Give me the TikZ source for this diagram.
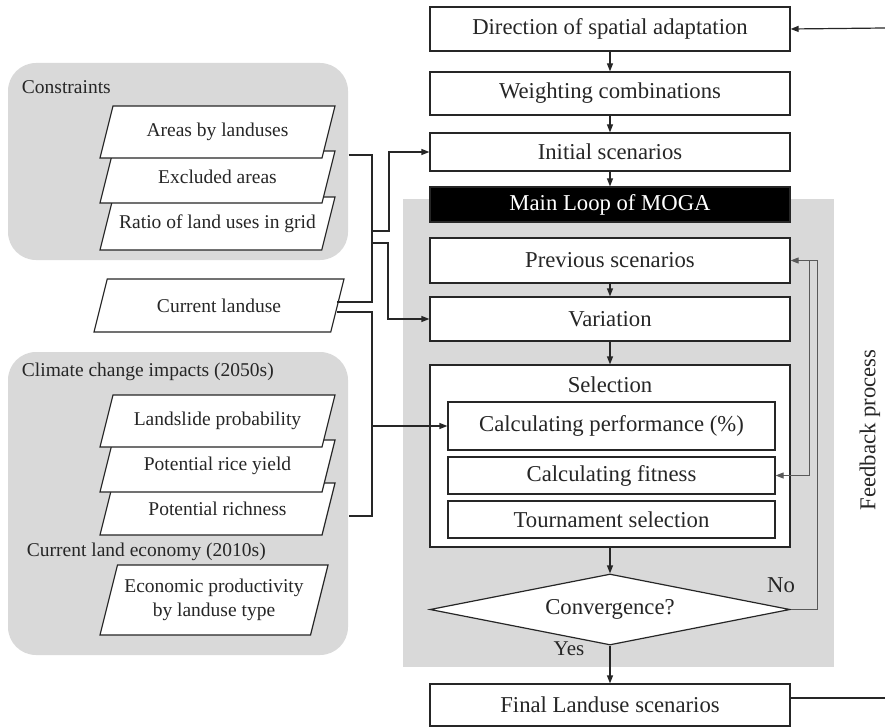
\documentclass[tikz,border=0pt]{standalone}
\usepackage{fontspec}
\setmainfont{Liberation Serif}
\usepackage{tikz}
\usetikzlibrary{arrows.meta, shapes.geometric, calc}

\newcommand{\flowfont}{\fontsize{22.7}{26}\selectfont}
\newcommand{\datafont}{\fontsize{19.5}{24}\selectfont}
% parallelogram: name, centre x, centre y, width, height, text
\newcommand{\dataitem}[6]{%
  \draw[fill=white] ({#2-#4/2},{#3+#5/2}) -- ({#2+#4/2-#5/4},{#3+#5/2})
    -- ({#2+#4/2},{#3-#5/2}) -- ({#2-#4/2+#5/4},{#3-#5/2}) -- cycle;
  \coordinate (#1-r) at ({#2+#4/2-#5/8},#3);
  \node[font=\datafont, align=center, inner sep=0pt] (#1) at (#2,#3) {#6};}

\begin{document}
\begin{tikzpicture}[x=1pt, y=-1pt, line width=1.2pt, color=black!85,
    stepbox/.style={draw, fill=white, minimum width=360pt, inner sep=0pt, font=\flowfont},
    subbox/.style={draw, fill=white, minimum width=327pt, inner sep=0pt, font=\flowfont},
    groupbox/.style={fill=gray!30, rounded corners=28pt, minimum width=340pt, inner sep=0pt},
    arr/.style={-{Triangle[length=8pt,width=6pt]}},
    fb/.style={gray!70!black, line width=1pt}]
      \useasboundingbox (0,0) rectangle (885,727);

      % 1. grey backgrounds
      \fill[gray!30] (403,199) rectangle (834,667);
      \node[groupbox, minimum height=197pt] (cons) at (178,161.5) {};
      \node[groupbox, minimum height=303pt] (clim) at (178,503.5) {};

      % 2. main flow
      \node[stepbox, minimum height=44pt] (dir) at (610,29) {Direction of spatial adaptation};
      \node[stepbox, minimum height=43pt] (weight) at (610,93.5) {Weighting combinations};
      \node[stepbox, minimum height=38pt] (init) at (610,152) {Initial scenarios};
      \node[stepbox, minimum height=35pt, fill=black, text=white] (moga) at (610,204.5) {Main Loop of MOGA};
      \node[stepbox, minimum height=45pt] (prev) at (610,260.5) {Previous scenarios};
      \node[stepbox, minimum height=44pt] (var) at (610,319) {Variation};
      \node[stepbox, minimum height=182pt] (sel) at (610,456) {};
      \node[font=\flowfont] (seltitle) at (610,385) {Selection};
      \node[subbox, minimum height=48pt] (perf) at (611.5,426) {Calculating performance (\%)};
      \node[subbox, minimum height=37pt] (fit) at (611.5,475.5) {Calculating fitness};
      \node[subbox, minimum height=37pt] (tour) at (611.5,519.5) {Tournament selection};
      \node[draw, fill=white, diamond, minimum width=360pt, minimum height=71pt, inner sep=0pt,
        aspect=5, font=\flowfont] (conv) at (610,609.5) {Convergence?};
      \node[stepbox, minimum height=42pt] (final) at (610,705) {Final Landuse scenarios};

      % 3. input data (lower items first, so upper ones lie on top)
      \node[anchor=west, font=\datafont] (constitle) at (18,87) {Constraints};
      \dataitem{ratio}{217.5}{223.5}{235}{53}{Ratio of land uses in grid}
      \dataitem{excl}{217.5}{177}{235}{52}{Excluded areas}
      \dataitem{areas}{217.5}{132}{235}{52}{Areas by landuses}
      \dataitem{curr}{219}{305.5}{250}{53}{Current landuse}
      \node[anchor=west, font=\datafont] (climtitle) at (18,372) {Climate change impacts (2050s)};
      \dataitem{rich}{217.5}{509}{235}{52}{Potential richness}
      \dataitem{rice}{217.5}{466}{235}{52}{Potential rice yield}
      \dataitem{slide}{217.5}{421}{235}{52}{Landslide probability}
      \node[anchor=west, font=\datafont] (econtitle) at (23,552) {Current land economy (2010s)};
      \dataitem{econ}{214}{600}{228}{70}{Economic productivity\\by landuse type}

      % 4. connectors of the main flow
      \foreach \a/\b in {dir/weight, weight/init, init/moga, prev/var, var/sel, sel/conv, conv/final}
        \draw[arr] (\a.south) -- (\b.north);
      \coordinate (fbin) at (885,28);
      \coordinate (fbout) at (885,698);
      \draw[arr] (fbin) -- (dir.east);
      \draw (final.east |- fbout) -- (fbout);

      % 5. inputs into the loop
      \coordinate (busA) at (372,231);
      \coordinate (busB) at (372,243);
      \coordinate (busC) at (372,426);
      \draw (cons.east |- 0,155) -| (372,302) -- (curr-r |- 0,302);
      \draw[arr] (busA) -- (389,231) |- (init.west);
      \draw[arr] (busB) -- (388,243) |- (var.west);
      \draw (curr-r |- 0,312) -| (372,516) -- (clim.east |- 0,516);
      \draw[arr] (busC) -- (perf.west);

      % 6. feedback
      \draw[fb, arr] (conv.east) -- ++(27,0) |- (prev.east);
      \draw[fb, arr] (prev.east -| 809,0) |- (fit.east);
      \node[font=\fontsize{21}{24}\selectfont] (yes) at (569,649) {Yes};
      \node[font=\flowfont] (no) at (781,585) {No};
      \node[font=\flowfont, rotate=90] (fbtxt) at (870,430) {Feedback process};
    \end{tikzpicture}
\end{document}
